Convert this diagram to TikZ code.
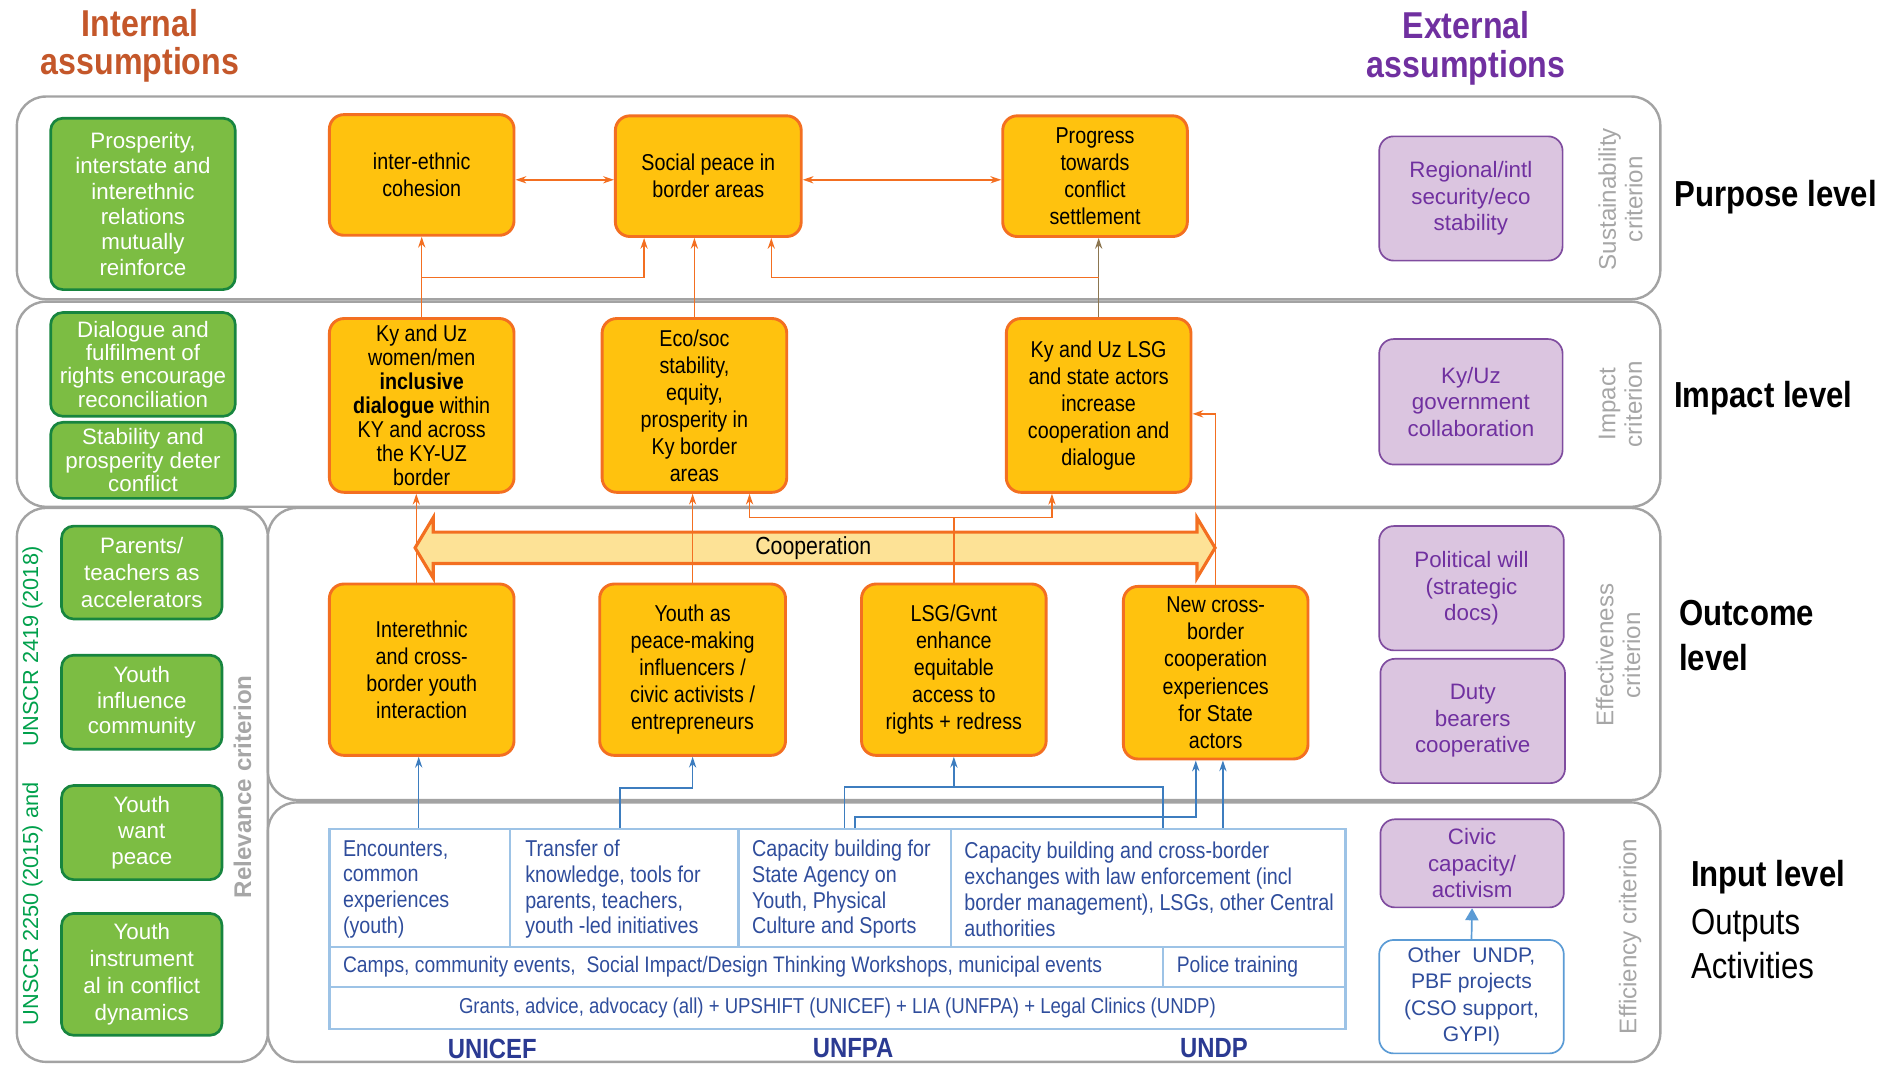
\documentclass[tikz,border=0pt]{standalone}
\usepackage{fontspec}
\setmainfont{Liberation Sans}
\newfontfamily\cn{Liberation Sans}[FakeStretch=0.86]
\usetikzlibrary{calc,arrows.meta}
\definecolor{ofill}{HTML}{FFC20E}
\definecolor{oline}{HTML}{F36F21}
\definecolor{gfill}{HTML}{7CBD43}
\definecolor{gline}{HTML}{17853F}
\definecolor{pfill}{HTML}{DBC5E0}
\definecolor{pline}{HTML}{7F4C9F}
\definecolor{ptext}{HTML}{7030A0}
\definecolor{bandc}{HTML}{A3A3A3}
\definecolor{crit}{HTML}{A6A6A6}
\definecolor{ititle}{HTML}{C4572A}
\definecolor{tline}{HTML}{9DC3E6}
\definecolor{ttext}{HTML}{2F4D9C}
\definecolor{agency}{HTML}{2B3A92}
\definecolor{bconn}{HTML}{3D7DBF}
\definecolor{lblue}{HTML}{5B9BD5}
\definecolor{coopfill}{HTML}{FDE296}
\definecolor{brownc}{HTML}{8C7650}
\definecolor{unscr}{HTML}{00A04B}
\begin{document}
\begin{tikzpicture}[x=1pt,y=-1pt,
  band/.style={draw=bandc, line width=2pt, rounded corners=24pt},
  gbox/.style={draw=gline, fill=gfill, line width=2.2pt, rounded corners=10pt, text=white, align=center, inner sep=0pt, font=\fontsize{18.5}{21}\selectfont},
  obox/.style={draw=oline, fill=ofill, line width=2.4pt, rounded corners=12pt, align=center, inner sep=0pt, font=\cn\fontsize{19}{22.3}\selectfont, minimum width=153pt},
  pbox/.style={draw=pline, fill=pfill, line width=1.4pt, rounded corners=12pt, text=ptext, align=center, inner sep=0pt, font=\fontsize{18.5}{22}\selectfont, minimum width=152pt},
  cell/.style={draw=tline, line width=1.8pt, inner sep=0pt},
  ttxt/.style={text=ttext, align=left, anchor=west, inner sep=0pt, font=\cn\fontsize{19}{21.3}\selectfont},
  oarr/.style={draw=oline, line width=1.2pt, -{Stealth[length=9pt,width=6pt]}},
  oln/.style={draw=oline, line width=1.2pt},
  barr/.style={draw=bconn, line width=1.3pt, -{Stealth[length=9pt,width=6pt]}},
  bln/.style={draw=bconn, line width=1.3pt},
  crittxt/.style={text=crit, rotate=90, align=center, font=\fontsize{20}{22}\selectfont},
  lvl/.style={anchor=west, align=left, font=\cn\bfseries\fontsize{30}{37}\selectfont},
  agencytxt/.style={text=agency, font=\cn\bfseries\fontsize{23}{26}\selectfont},
  title/.style={align=center, font=\cn\bfseries\fontsize{31}{32}\selectfont}
]
\useasboundingbox (0,0) rectangle (1568,882);
% bands
\draw[band] (14,80) rectangle (1376,248);
\draw[band] (14,250) rectangle (1376,420);
\draw[band] (14,421) rectangle (222,880);
\draw[band] (222,421) rectangle (1376,663);
\draw[band] (222,665) rectangle (1376,880);

% titles
\node[title, text=ititle] (tInt) at (116,38) {Internal\\assumptions};
\node[title, text=ptext] (tExt) at (1215,40) {External\\assumptions};

% level labels
\node[lvl] (lP) at (1384,163) {Purpose level};
\node[lvl] (lI) at (1384,330) {Impact level};
\node[lvl] (lO) at (1388,526.5) {Outcome\\level};
\node[lvl] (lIn) at (1398,727) {Input level};
\node[lvl, font=\cn\fontsize{30}{36.5}\selectfont] (lOA) at (1398,782) {Outputs\\Activities};

% criteria
\node[crittxt] (cS) at (1343,165) {Sustainability\\criterion};
\node[crittxt] (cI) at (1343,335) {Impact\\criterion};
\node[crittxt] (cE) at (1341,543) {Effectiveness\\criterion};
\node[crittxt] (cF) at (1351,776) {Efficiency criterion};
\node[text=crit, rotate=90, font=\bfseries\fontsize{20}{22}\selectfont] (cR) at (201,652) {Relevance criterion};
\node[text=unscr, rotate=90, font=\fontsize{18}{20}\selectfont] (u1) at (27,749) {UNSCR 2250 (2015) and};
\node[text=unscr, rotate=90, font=\fontsize{18}{20}\selectfont] (u2) at (27,536) {UNSCR 2419 (2018)};

% green boxes
\node[gbox, minimum width=153pt, minimum height=142pt] (G1) at (118.5,169) {Prosperity,\\interstate and\\interethnic\\relations\\mutually\\reinforce};
\node[gbox, minimum width=153pt, minimum height=86pt, font=\fontsize{18.5}{19.2}\selectfont] (G2) at (118.5,302) {Dialogue and\\fulfilment of\\rights encourage\\reconciliation};
\node[gbox, minimum width=153pt, minimum height=63pt, font=\fontsize{18.5}{19.5}\selectfont] (G3) at (118.5,381.5) {Stability and\\prosperity deter\\conflict};
\node[gbox, minimum width=133pt, minimum height=77pt, font=\fontsize{18.5}{22}\selectfont] (G4) at (117.5,474.5) {Parents/\\teachers as\\accelerators};
\node[gbox, minimum width=133pt, minimum height=78pt, font=\fontsize{18.5}{21.5}\selectfont] (G5) at (117.5,582) {Youth\\influence\\community};
\node[gbox, minimum width=133pt, minimum height=78pt, font=\fontsize{18.5}{21.5}\selectfont] (G6) at (117.5,690) {Youth\\want\\peace};
\node[gbox, minimum width=133pt, minimum height=101pt, font=\fontsize{18.5}{22.5}\selectfont] (G7) at (117.5,807.5) {Youth\\instrument\\al in conflict\\dynamics};

% orange boxes
\node[obox, minimum height=100pt] (O1) at (349.5,145) {inter-ethnic\\cohesion};
\node[obox, minimum width=154pt, minimum height=100pt] (O2) at (587,146) {Social peace in\\border areas};
\node[obox, minimum height=100pt] (O3) at (907.5,146) {Progress\\towards\\conflict\\settlement};
\node[obox, minimum height=144pt, font=\cn\fontsize{19}{19.9}\selectfont] (O4) at (349.5,336) {Ky and Uz\\women/men\\\textbf{inclusive}\\\textbf{dialogue} within\\KY and across\\the KY-UZ\\border};
\node[obox, minimum height=144pt, font=\cn\fontsize{19}{22.4}\selectfont] (O5) at (575.5,336) {Eco/soc\\stability,\\equity,\\prosperity in\\Ky border\\areas};
\node[obox, minimum height=144pt] (O6) at (910.5,336) {Ky and Uz LSG\\and state actors\\increase\\cooperation and\\dialogue};

% cooperation arrow
\draw[draw=oline, fill=coopfill, line width=2.6pt, line join=miter]
  (344,454) -- (359,429) -- (359,441) -- (992,441) -- (992,429) -- (1007,454)
  -- (992,479) -- (992,467) -- (359,467) -- (359,479) -- cycle;
\node[font=\cn\fontsize{20.5}{22}\selectfont] (coop) at (674,454) {Cooperation};

\node[obox, minimum height=142pt] (O7) at (349.5,555) {Interethnic\\and cross-\\border youth\\interaction};
\node[obox, minimum width=154pt, minimum height=142pt] (O8) at (574,555) {Youth as\\peace-making\\influencers /\\civic activists /\\entrepreneurs};
\node[obox, minimum height=142pt] (O9) at (790.5,555) {LSG/Gvnt\\enhance\\equitable\\access to\\rights + redress};
\node[obox, minimum height=143pt, font=\cn\fontsize{19}{22.5}\selectfont] (O10) at (1007.5,557.5) {New cross-\\border\\cooperation\\experiences\\for State\\actors};

% purple boxes
\node[pbox, minimum height=103pt] (P1) at (1219,164.5) {Regional/intl\\security/eco\\stability};
\node[pbox, minimum height=104pt] (P2) at (1219,333) {Ky/Uz\\government\\collaboration};
\node[pbox, minimum width=153pt, minimum height=103pt] (P3) at (1219.5,487.5) {Political will\\(strategic\\docs)};
\node[pbox, minimum width=153pt, minimum height=103pt] (P4) at (1220.5,597.5) {Duty\\bearers\\cooperative};
\node[pbox, minimum height=73pt] (P5) at (1220,715.5) {Civic\\capacity/\\activism};
\node[draw=lblue, fill=white, line width=1.4pt, rounded corners=12pt, text=ttext, align=center, inner sep=0pt, minimum width=153pt, minimum height=94pt, font=\fontsize{17.5}{22}\selectfont] (B1) at (1219.5,826) {Other~ UNDP,\\PBF projects\\(CSO support,\\GYPI)};

% activity table
\node[cell, minimum width=150pt, minimum height=98pt] (A1) at (348,736) {};
\node[cell, minimum width=189pt, minimum height=98pt] (A2) at (517.5,736) {};
\node[cell, minimum width=176pt, minimum height=98pt] (A3) at (700,736) {};
\node[cell, minimum width=327pt, minimum height=98pt] (A4) at (951.5,736) {};
\node[cell, minimum width=691pt, minimum height=33pt] (R2a) at (618.5,801.5) {};
\node[cell, minimum width=151pt, minimum height=33pt] (R2b) at (1039.5,801.5) {};
\node[cell, minimum width=842pt, minimum height=35pt] (R3) at (694,835.5) {};
\node[ttxt] (tA1) at ($(A1.west)+(12,1)$) {Encounters,\\common\\experiences\\(youth)};
\node[ttxt] (tA2) at ($(A2.west)+(13,1)$) {Transfer of\\knowledge, tools for\\parents, teachers,\\youth -led initiatives};
\node[ttxt] (tA3) at ($(A3.west)+(12,1)$) {Capacity building for\\State Agency on\\Youth, Physical\\Culture and Sports};
\node[ttxt] (tA4) at ($(A4.west)+(12,1)$) {Capacity building and cross-border\\exchanges with law enforcement (incl\\border management), LSGs, other Central\\authorities};
\node[ttxt, font=\cn\fontsize{18.6}{21}\selectfont] (tR2a) at ($(R2a.west)+(12,0)$) {Camps, community events,~ Social Impact/Design Thinking Workshops, municipal events};
\node[ttxt, font=\cn\fontsize{18.6}{21}\selectfont] (tR2b) at ($(R2b.west)+(12,0)$) {Police training};
\node[ttxt, anchor=center, font=\cn\fontsize{17.9}{21}\selectfont] (tR3) at (R3.center) {Grants, advice, advocacy (all) + UPSHIFT (UNICEF) + LIA (UNFPA) + Legal Clinics (UNDP)};

\node[agencytxt] (ag1) at (408,869) {UNICEF};
\node[agencytxt] (ag2) at (707,869) {UNFPA};
\node[agencytxt] (ag3) at (1006,869) {UNDP};

% purpose-level connectors
\draw[oln, {Stealth[length=9pt,width=6pt]}-{Stealth[length=9pt,width=6pt]}] ($(O1.east)+(0,4)$) -- ($(O2.west)+(0,3)$);
\draw[oln, {Stealth[length=9pt,width=6pt]}-{Stealth[length=9pt,width=6pt]}] ($(O2.east)+(0,3)$) -- ($(O3.west)+(0,3)$);
\draw[oarr] (O4.north) -- (O1.south);
\coordinate (j1) at (349.5,230);
\coordinate (j2) at (910.5,230);
\draw[oarr] (j1) -| ($(O2.south west)+(25,0)$);
\draw[oarr] (O5.north) -- (O5.north |- O2.south);
\draw[draw=brownc, line width=1.2pt, -{Stealth[length=9pt,width=6pt]}] (O6.north) -- (O6.north |- O3.south);
\draw[oarr] (j2) -| ($(O2.south east)+(-26,0)$);

% impact-level connectors
\path ($(O7.north)+(-4.5,0)$) coordinate (s7);
\draw[oarr] (s7) -- (s7 |- O4.south);
\draw[oarr] (O8.north) -- (O8.north |- O5.south);
\coordinate (j3) at (790.5,429);
\draw[oln] (O9.north) -- (j3);
\draw[oarr] (j3) -| ($(O5.south east)+(-32,0)$);
\draw[oarr] (j3) -| ($(O6.south west)+(39,0)$);
\draw[oarr] (O10.north) |- ($(O6.east)+(0,7)$);

% outcome-level connectors (blue)
\path ($(O7.south)+(-2.5,0)$) coordinate (s1);
\draw[barr] (s1 |- A1.north) -- (s1);
\draw[barr] ($(A2.north)+(-3.5,0)$) |- ($(O8.south)+(0,26)$) -- (O8.south);
\coordinate (j4) at (790.5,652);
\draw[bln] (A3.north) |- (j4) -| ($(A4.north)+(12.5,0)$);
\draw[barr] (j4) -- (O9.south);
\draw[barr] ($(A3.north)+(8.6,0)$) |- ($(O10.south)+(-16.5,47)$) -- ($(O10.south)+(-16.5,0)$);
\path ($(O10.south)+(6,0)$) coordinate (b4);
\draw[barr] (b4 |- A4.north) -- (b4);

% input-level connector
\draw[draw=lblue, line width=1.4pt, -{Triangle[length=10pt,width=11pt]}] (B1.north) -- (P5.south);
\end{tikzpicture}
\end{document}
